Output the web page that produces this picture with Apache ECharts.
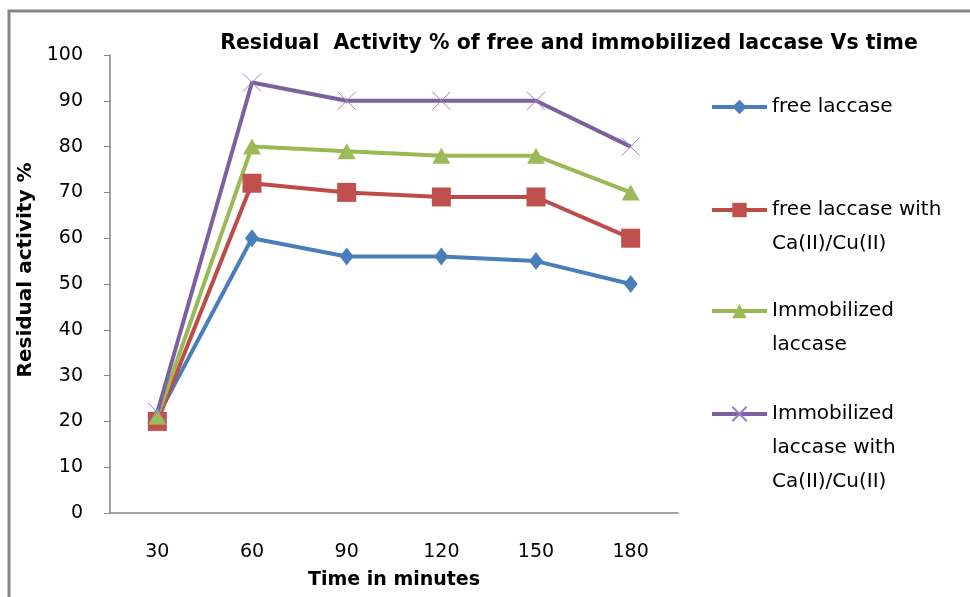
<!DOCTYPE html>
<html>
<head>
<meta charset="utf-8">
<script src="https://cdn.jsdelivr.net/npm/echarts@6/dist/echarts.min.js"></script>
<style>
  html, body { margin: 0; padding: 0; background: #fff; }
  #chart { width: 970px; height: 597px; }
</style>
</head>
<body>
<div id="chart"></div>
<script>
// values
const times = ["30", "60", "90", "120", "150", "180"];
const freeLaccase = [21, 60, 56, 56, 55, 50];
const freeLaccaseCa = [20, 72, 70, 69, 69, 60];
const immobilized = [21, 80, 79, 78, 78, 70];
const immobilizedCa = [22, 94, 90, 90, 90, 80];
const seriesNames = [
  "free laccase",
  "free laccase with\nCa(II)/Cu(II)",
  "Immobilized\nlaccase",
  "Immobilized\nlaccase with\nCa(II)/Cu(II)"
];

const font = "DejaVu Sans";
const axisGray = "#868686";

const chart = echarts.init(document.getElementById("chart"));

// one legend per series so each entry sits where the original has it;
// blank lines on top keep the icon level with the first text line
const legendTops = [85, 154, 255, 324];
const legends = seriesNames.map((name, i) => ({
  data: [name],
  left: 705,
  top: legendTops[i],
  padding: 5,
  itemWidth: 55,
  itemHeight: 18,
  selectedMode: false,
  lineStyle: { width: 4 },
  formatter: (n) => "\n".repeat(n.split("\n").length - 1) + n,
  textStyle: { fontFamily: font, fontSize: 20, lineHeight: 34, color: "#000" }
}));

chart.setOption({
  animation: false,
  backgroundColor: "#fff",
  title: {
    text: "Residual  Activity % of free and immobilized laccase Vs time",
    left: 564,
    textAlign: "center",
    top: 28,
    textStyle: { fontFamily: font, fontSize: 20.5, fontWeight: "bold", color: "#000" }
  },
  graphic: [
    {
      type: "rect",
      shape: { x: 9, y: 11, width: 1000, height: 700 },
      style: { fill: "none", stroke: axisGray, lineWidth: 3 },
      silent: true
    }
  ],
  legend: legends,
  grid: { left: 110, right: 292, top: 55, bottom: 84 },
  xAxis: {
    type: "category",
    data: times,
    boundaryGap: true,
    name: "Time in minutes",
    nameLocation: "middle",
    nameGap: 58,
    nameTextStyle: { fontFamily: font, fontSize: 19, fontWeight: "bold", color: "#000" },
    axisLine: { lineStyle: { color: axisGray, width: 1.5 } },
    axisTick: { length: 8, lineStyle: { color: axisGray } },
    axisLabel: { fontFamily: font, fontSize: 19, color: "#000", margin: 30 },
    splitLine: { show: false }
  },
  yAxis: {
    type: "value",
    min: 0,
    max: 100,
    interval: 10,
    name: "Residual activity %",
    nameLocation: "middle",
    nameGap: 64,
    nameTextStyle: {
      fontFamily: font, fontSize: 20, fontWeight: "bold", color: "#000",
      padding: [0, 0, 0, 28]
    },
    axisLine: { show: true, lineStyle: { color: axisGray, width: 1.5 } },
    axisTick: { show: true, length: 6, lineStyle: { color: axisGray } },
    axisLabel: { fontFamily: font, fontSize: 19, color: "#000", margin: 27 },
    splitLine: { show: false }
  },
  series: [
    {
      name: seriesNames[0],
      type: "line",
      data: freeLaccase,
      symbol: "diamond",
      symbolSize: [14, 18],
      lineStyle: { width: 4, color: "#4a7ebb" },
      itemStyle: { color: "#4a7ebb" }
    },
    {
      name: seriesNames[1],
      type: "line",
      data: freeLaccaseCa,
      symbol: "rect",
      symbolSize: 19,
      lineStyle: { width: 4, color: "#be4b48" },
      itemStyle: { color: "#c0504d" }
    },
    {
      name: seriesNames[2],
      type: "line",
      data: immobilized,
      symbol: "triangle",
      symbolSize: [18, 16],
      lineStyle: { width: 4, color: "#98b954" },
      itemStyle: { color: "#9bbb59" }
    },
    {
      name: seriesNames[3],
      type: "line",
      data: immobilizedCa,
      symbol: "path://M0,0L10,10M10,0L0,10",
      symbolSize: 18,
      lineStyle: { width: 4, color: "#7d60a0" },
      itemStyle: { color: "rgba(0,0,0,0)", borderColor: "#9a80c2", borderWidth: 1 }
    }
  ]
});
</script>
</body>
</html>
